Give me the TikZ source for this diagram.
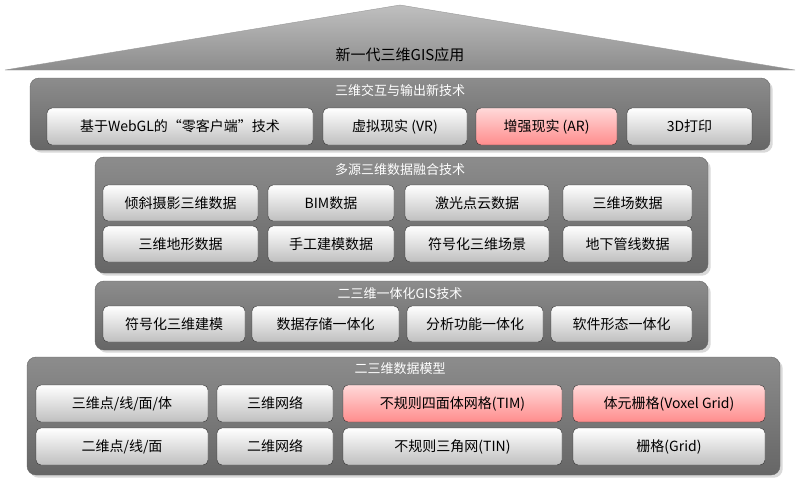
\documentclass[tikz,border=0pt]{standalone}
\usepackage{fontspec}
\setmainfont{Noto Sans CJK SC}
\usetikzlibrary{shadows}
\begin{document}
\begin{tikzpicture}[x=1pt,y=-1pt,
 panel/.style={rounded corners=9pt,draw=black!60,top color=black!45,bottom color=black!60,drop shadow={opacity=0.3}},
 ptitle/.style={text=white,font=\fontsize{13}{13}\selectfont},
 cell/.style={rounded corners=5pt,draw=black!80,top color=white,bottom color=black!25},
 red/.style={top color=red!15,bottom color=red!45}]
\useasboundingbox (0,0) rectangle (800,483);
\path[top color=black!25,bottom color=black!45,draw=black!40] (5,70) -- (400,5) -- (795,70) -- cycle;
\node[font=\fontsize{15}{15}\selectfont] (rt) at (400,55) {新一代三维GIS应用};
\newcommand\cellbox[6][]{\path[cell,#1] (#2,#3) rectangle (#4,#5); \node[font=\fontsize{14}{14}\selectfont] at ({(#2+#4)/2},{(#3+#5)/2}) {#6};}
% layer 1
\path[panel] (30,78) rectangle (770,150);
\node[ptitle] (t1) at (400,91) {三维交互与输出新技术};
\cellbox{47}{108}{313}{145}{基于WebGL的“零客户端”技术}
\cellbox{323}{108}{467}{145}{虚拟现实 (VR)}
\cellbox[red]{476}{108}{617}{145}{增强现实 (AR)}
\cellbox{627}{108}{752}{145}{3D打印}
% layer 2
\path[panel] (95,157) rectangle (708,273);
\node[ptitle] (t2) at (400,170) {多源三维数据融合技术};
\cellbox{103}{185}{258}{221}{倾斜摄影三维数据}
\cellbox{268}{185}{394}{221}{BIM数据}
\cellbox{405}{185}{549}{221}{激光点云数据}
\cellbox{563}{185}{692}{221}{三维场数据}
\cellbox{103}{226}{258}{262}{三维地形数据}
\cellbox{268}{226}{394}{262}{手工建模数据}
\cellbox{405}{226}{549}{262}{符号化三维场景}
\cellbox{563}{226}{692}{262}{地下管线数据}
% layer 3
\path[panel] (95,281) rectangle (708,350);
\node[ptitle] (t3) at (400,294) {二三维一体化GIS技术};
\cellbox{103}{306}{245}{342}{符号化三维建模}
\cellbox{252}{306}{399}{342}{数据存储一体化}
\cellbox{407}{306}{543}{342}{分析功能一体化}
\cellbox{551}{306}{692}{342}{软件形态一体化}
% layer 4
\path[panel] (27,357) rectangle (780,475);
\node[ptitle] (t4) at (400,369) {二三维数据模型};
\cellbox{36}{385}{208}{422}{三维点/线/面/体}
\cellbox{217}{385}{333}{422}{三维网络}
\cellbox[red]{343}{385}{562}{422}{不规则四面体网格(TIM)}
\cellbox[red]{573}{385}{765}{422}{体元栅格(Voxel Grid)}
\cellbox{36}{428}{208}{465}{二维点/线/面}
\cellbox{217}{428}{333}{465}{二维网络}
\cellbox{343}{428}{562}{465}{不规则三角网(TIN)}
\cellbox{573}{428}{765}{465}{栅格(Grid)}
\end{tikzpicture}
\end{document}
